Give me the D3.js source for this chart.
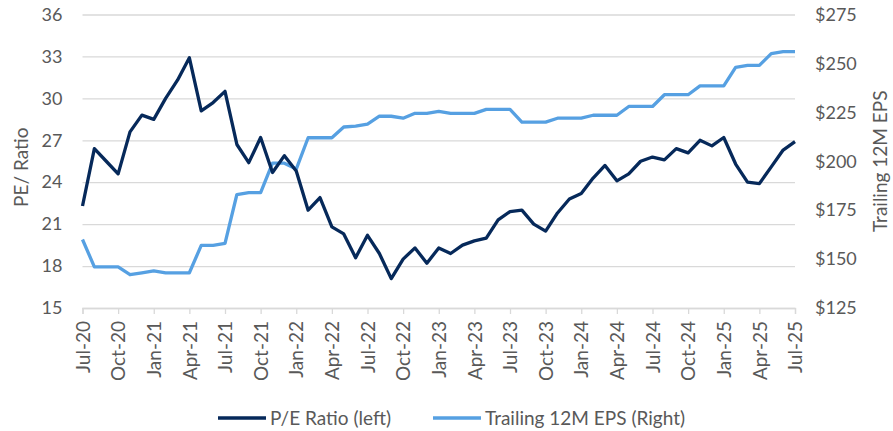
<!DOCTYPE html>
<html>
<head>
<meta charset="utf-8">
<script src="https://cdn.jsdelivr.net/npm/d3@7"></script>
<style>
	body { margin: 0; background: #fff; }
	text { font-family: Lato, "Open Sans", sans-serif; fill: #595959; }
</style>
</head>
<body>
<div id="chart"></div>
<script>
// monthly, Jul-20 .. Jul-25
const months = ["Jul-20","Aug-20","Sep-20","Oct-20","Nov-20","Dec-20","Jan-21","Feb-21","Mar-21","Apr-21","May-21","Jun-21",
	"Jul-21","Aug-21","Sep-21","Oct-21","Nov-21","Dec-21","Jan-22","Feb-22","Mar-22","Apr-22","May-22","Jun-22",
	"Jul-22","Aug-22","Sep-22","Oct-22","Nov-22","Dec-22","Jan-23","Feb-23","Mar-23","Apr-23","May-23","Jun-23",
	"Jul-23","Aug-23","Sep-23","Oct-23","Nov-23","Dec-23","Jan-24","Feb-24","Mar-24","Apr-24","May-24","Jun-24",
	"Jul-24","Aug-24","Sep-24","Oct-24","Nov-24","Dec-24","Jan-25","Feb-25","Mar-25","Apr-25","May-25","Jun-25","Jul-25"];

const peRatio = [22.3,26.4,25.5,24.6,27.6,28.8,28.5,30.0,31.3,32.9,29.1,29.7,
	30.5,26.7,25.4,27.2,24.7,25.9,24.8,22.0,22.9,20.8,20.3,18.6,
	20.2,18.9,17.1,18.5,19.3,18.2,19.3,18.9,19.5,19.8,20.0,21.3,
	21.9,22.0,21.0,20.5,21.8,22.8,23.2,24.3,25.2,24.1,24.6,25.5,
	25.8,25.6,26.4,26.1,27.0,26.6,27.2,25.3,24.0,23.9,25.1,26.3,26.9];

const eps = [160,146,146,146,142,143,144,143,143,143,157,157,
	158,183,184,184,199,199,196,212,212,212,217.5,218,
	219,223,223,222,224.5,224.5,225.5,224.5,224.5,224.5,226.5,226.5,
	226.5,220,220,220,222,222,222,223.5,223.5,223.5,228,228,
	228,234,234,234,238.5,238.5,238.5,248,249,249,255,256,256];

const peTicks = [15, 18, 21, 24, 27, 30, 33, 36];
const epsTicks = [125, 150, 175, 200, 225, 250, 275];
const seriesNames = ["P/E Ratio (left)", "Trailing 12M EPS (Right)"];

const darkColor = "#06295a", lightColor = "#56a0e2";

const W = 893, H = 431;
let margin = {top: 14.5, right: 98, bottom: 123, left: 82.5},
	width = W - margin.left - margin.right,
	height = H - margin.top - margin.bottom;

let svg = d3.select("#chart").append("svg")
	.attr("width", W).attr("height", H)
	.append("g")
	.attr("transform", "translate(" + margin.left + "," + margin.top + ")");

let x = d3.scalePoint().domain(months).range([0, width]);
let yL = d3.scaleLinear().domain([15, 36]).range([height, 0]);
let yR = d3.scaleLinear().domain([125, 275]).range([height, 0]);

// gridlines
svg.append("g")
	.call(d3.axisLeft(yL).tickValues(peTicks).tickSize(-width).tickFormat(""))
	.call(g => g.select(".domain").remove())
	.call(g => g.selectAll("line").attr("stroke", "#d9d9d9").attr("stroke-width", 1.3));

// left axis labels
svg.append("g")
	.call(d3.axisLeft(yL).tickValues(peTicks).tickSize(0).tickPadding(20))
	.call(g => g.select(".domain").remove())
	.call(g => g.selectAll("text").style("font-size", "18px"));

// right axis labels
svg.append("g")
	.attr("transform", "translate(" + width + ",0)")
	.call(d3.axisRight(yR).tickValues(epsTicks).tickSize(0).tickPadding(20)
		.tickFormat(d => "$" + d))
	.call(g => g.select(".domain").remove())
	.call(g => g.selectAll("text").style("font-size", "18px"));

// x axis
const xTicks = months.filter((d, i) => i % 3 === 0);
svg.append("g")
	.attr("transform", "translate(0," + height + ")")
	.call(d3.axisBottom(x).tickValues(xTicks).tickSize(6).tickPadding(8))
	.call(g => g.select(".domain").attr("stroke", "#d9d9d9").attr("stroke-width", 1.3))
	.call(g => g.selectAll(".tick line").attr("stroke", "#d9d9d9").attr("stroke-width", 1.3))
	.call(g => g.selectAll("text")
		.style("font-size", "19px")
		.attr("text-anchor", "end")
		.attr("transform", "rotate(-90)")
		.attr("x", -13).attr("y", 0).attr("dy", "0.35em"));

// lines
let peLine = d3.line().x((d, i) => x(months[i])).y(d => yL(d));
let epsLine = d3.line().x((d, i) => x(months[i])).y(d => yR(d));

svg.append("path").datum(eps)
	.attr("fill", "none").attr("stroke", lightColor).attr("stroke-width", 3.3)
	.attr("stroke-linejoin", "round").attr("d", epsLine);

svg.append("path").datum(peRatio)
	.attr("fill", "none").attr("stroke", darkColor).attr("stroke-width", 3.3)
	.attr("stroke-linejoin", "round").attr("d", peLine);

// axis titles
const root = d3.select("#chart svg");
root.append("text")
	.attr("transform", "translate(21," + (margin.top + height / 2 + 6) + ") rotate(-90)")
	.attr("text-anchor", "middle")
	.attr("dy", "0.35em")
	.style("font-size", "19px")
	.text("PE/ Ratio");

root.append("text")
	.attr("transform", "translate(880," + (margin.top + height / 2) + ") rotate(-90)")
	.attr("text-anchor", "middle")
	.attr("dy", "0.35em")
	.style("font-size", "19px")
	.text("Trailing 12M EPS");

// legend
const legend = root.append("g").attr("transform", "translate(218,418)");
const legendItems = [
	{name: seriesNames[0], color: darkColor, x: 0},
	{name: seriesNames[1], color: lightColor, x: 215}
];
legendItems.forEach(d => {
	const g = legend.append("g").attr("transform", "translate(" + d.x + ",0)");
	g.append("line").attr("x1", 0).attr("x2", 48).attr("y1", 0).attr("y2", 0)
		.attr("stroke", d.color).attr("stroke-width", 3.3);
	g.append("text").attr("x", 52).attr("dy", "0.35em")
		.style("font-size", "19px").text(d.name);
});
</script>
</body>
</html>
